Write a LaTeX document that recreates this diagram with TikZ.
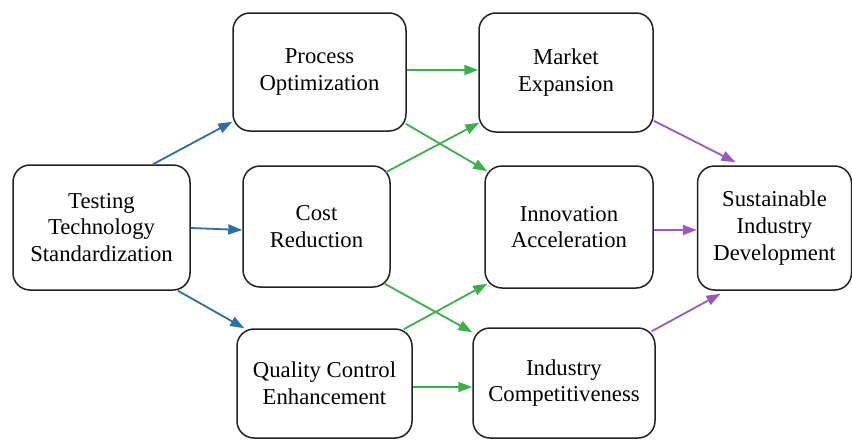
\documentclass[tikz,border=0pt]{standalone}
\usepackage{fontspec}
\setmainfont{Liberation Serif}
\usetikzlibrary{arrows.meta,calc}
\definecolor{cblue}{HTML}{2E6EA5}
\definecolor{cgreen}{HTML}{3CAF4B}
\definecolor{cpurple}{HTML}{9B5AB9}
\definecolor{cborder}{HTML}{222222}
\tikzset{
  box/.style={draw=cborder, line width=1.5pt, rounded corners=17pt, fill=white,
    align=center, inner sep=0pt,
    font=\fontsize{22.7}{26.7}\selectfont},
  conn/.style={line width=1.8pt, -{Triangle[length=14pt,width=10pt]}},
  bl/.style={conn, draw=cblue, fill=cblue},
  gr/.style={conn, draw=cgreen, fill=cgreen},
  pu/.style={conn, draw=cpurple, fill=cpurple}
}
\begin{document}
\begin{tikzpicture}[x=1pt,y=-1pt]
\useasboundingbox (0,0) rectangle (852,442);
\node[box, minimum width=177pt, minimum height=125pt] (tts) at (101.5,227.5) {Testing\\Technology\\Standardization};
\node[box, minimum width=173pt, minimum height=118pt] (po) at (319.5,72) {Process\\Optimization};
\node[box, minimum width=147pt, minimum height=121pt] (cr) at (316.5,226.5) {Cost\\Reduction};
\node[box, minimum width=175pt, minimum height=109pt] (qc) at (324.5,383.5) {Quality Control\\Enhancement};
\node[box, minimum width=174pt, minimum height=119pt] (me) at (566,72.5) {Market\\Expansion};
\node[box, minimum width=168pt, minimum height=122pt] (ia) at (569,227) {Innovation\\Acceleration};
\node[box, minimum width=182pt, minimum height=110pt] (ic) at (564,383) {Industry\\Competitiveness};
\node[box, minimum width=154pt, minimum height=124pt] (sid) at (774.5,228) {Sustainable\\Industry\\Development};
% blue
\draw[bl] ($(tts.north)+(51.5,0)$) -- ($(po.south west)+(0,-10)$);
\draw[bl] ($(tts.east)+(0,0.5)$) -- ($(cr.west)+(0,3.5)$);
\draw[bl] ($(tts.south)+(76.5,0)$) -- ($(qc.north west)+(8,0)$);
% green
\draw[gr] ($(po.east)+(0,-2)$) -- ($(me.west)+(0,-2.5)$);
\draw[gr] ($(po.south east)+(-1,-8)$) -- ($(ia.north west)+(3,6)$);
\draw[gr] ($(cr.north east)+(-5,7)$) -- ($(me.south west)+(1,-10)$);
\draw[gr] ($(cr.south east)+(-6,-4)$) -- ($(ic.north west)+(0,5)$);
\draw[gr] ($(qc.north east)+(-9,1)$) -- ($(ia.south west)+(3,-5)$);
\draw[gr] ($(qc.east)+(0,3.5)$) -- ($(ic.west)+(0,4)$);
% purple
\draw[pu] ($(me.south east)+(0,-12)$) -- ($(sid.north)+(-39,-3)$);
\draw[pu] ($(ia.east)+(0,3)$) -- ($(sid.west)+(0,2)$);
\draw[pu] ($(ic.north east)+(-4,4)$) -- ($(sid.south)+(-54,3)$);
\end{tikzpicture}
\end{document}
